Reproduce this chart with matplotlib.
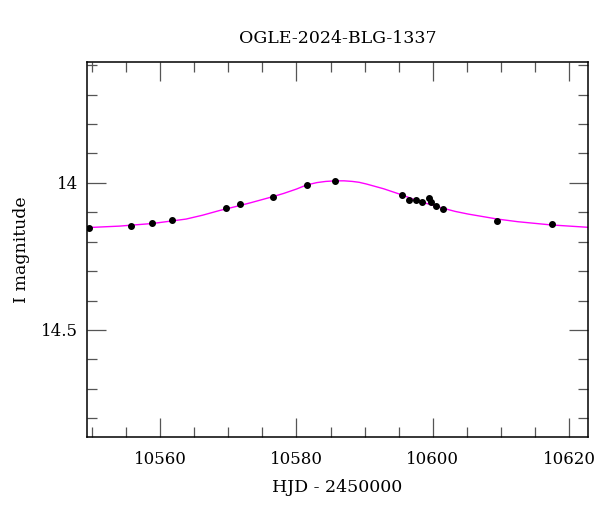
import matplotlib
matplotlib.use("Agg")
import matplotlib.pyplot as plt
from matplotlib.ticker import MultipleLocator

title = "OGLE-2024-BLG-1337"
xlabel = "HJD - 2450000"
ylabel = "I magnitude"

# observed points (HJD-2450000, I mag)
obs_t = [10549.6, 10555.75, 10558.8, 10561.7, 10569.6, 10571.7, 10576.5, 10581.6,
         10585.7, 10595.5, 10596.5, 10597.55, 10598.5, 10599.5, 10599.7, 10600.5,
         10601.5, 10609.5, 10617.5]
obs_mag = [14.154, 14.145, 14.138, 14.126, 14.087, 14.071, 14.047, 14.006,
           13.993, 14.041, 14.059, 14.058, 14.066, 14.053, 14.065, 14.079,
           14.089, 14.130, 14.140]

# model curve
mod_t = [10549.3, 10554.0, 10558.9, 10563.8, 10566.2, 10568.7, 10571.0, 10573.2,
         10576.5, 10578.1, 10580.0, 10581.5, 10583.0, 10584.3, 10585.7, 10587.0,
         10588.2, 10589.2, 10590.3, 10592.8, 10595.5, 10597.8, 10600.3, 10601.5,
         10603.3, 10605.2, 10609.5, 10612.5, 10617.4, 10622.8]
mod_mag = [14.152, 14.147, 14.138, 14.123, 14.110, 14.094, 14.081, 14.068,
           14.047, 14.036, 14.021, 14.007, 13.999, 13.995, 13.993, 13.993,
           13.995, 13.998, 14.004, 14.020, 14.041, 14.061, 14.078, 14.086,
           14.097, 14.106, 14.123, 14.132, 14.143, 14.151]

plt.rcParams['font.family'] = ['DejaVu Serif']
fig = plt.figure(figsize=(6.0, 5.12), dpi=100)
ax = fig.add_axes([0.1455, 0.1465, 0.834, 0.7318])

ax.plot(mod_t, mod_mag, color='#ff00ff', lw=1.0, zorder=2)
ax.plot(obs_t, obs_mag, 'o', color='black', ms=4.0, zorder=3)

ax.set_xlim(10549.3, 10622.75)
ax.set_ylim(14.864, 13.59)

ax.xaxis.set_major_locator(MultipleLocator(20))
ax.xaxis.set_minor_locator(MultipleLocator(5))
ax.yaxis.set_major_locator(MultipleLocator(0.5))
ax.yaxis.set_minor_locator(MultipleLocator(0.1))
ax.yaxis.set_major_formatter(matplotlib.ticker.FuncFormatter(lambda v, p: f"{v:g}"))

ax.tick_params(which='both', direction='in', top=True, right=True, color='#555555', width=0.9)
ax.tick_params(which='major', length=13.5)
ax.tick_params(which='minor', length=7)
ax.tick_params(axis='x', which='major', pad=10, labelsize=12)
ax.tick_params(axis='y', which='major', pad=6.5, labelsize=12)
for s in ax.spines.values():
    s.set_linewidth(1.1)

ax.set_xlabel(xlabel, fontsize=12.5, labelpad=8)
ax.set_ylabel(ylabel, fontsize=12.5, labelpad=8)
ax.set_title(title, fontsize=12.5, pad=14)

fig.savefig("out.png", dpi=100)
